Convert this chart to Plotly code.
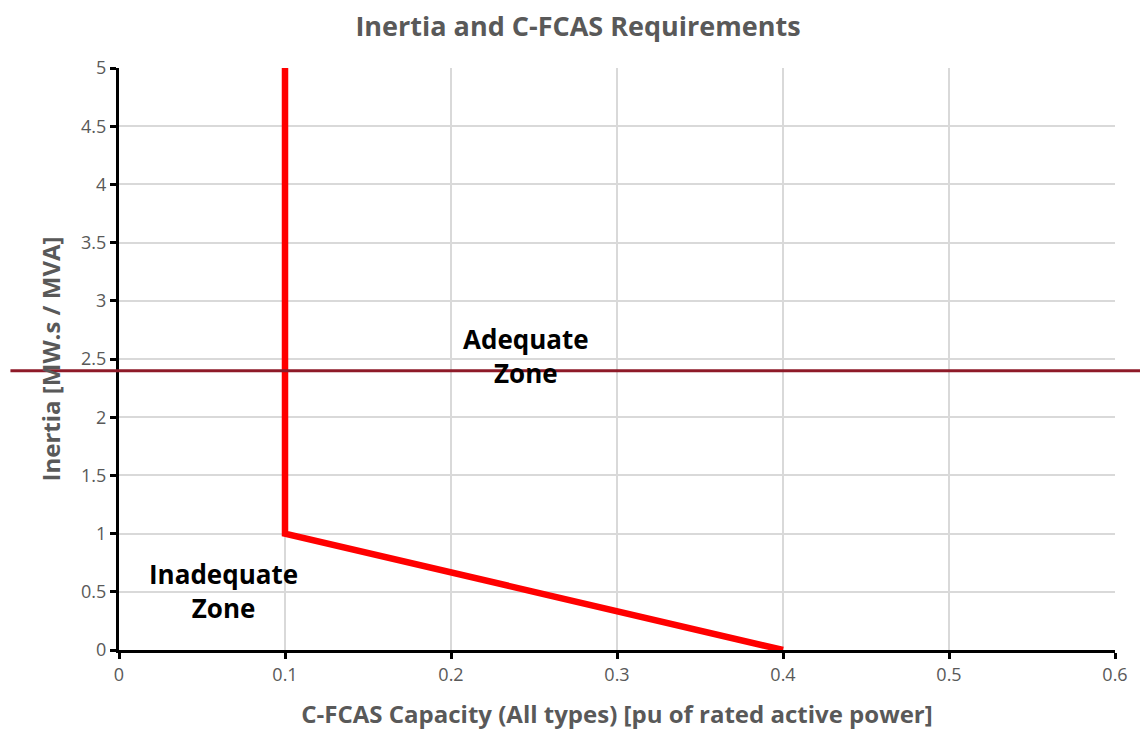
import plotly.graph_objects as go

capacity = [0.1, 0.1, 0.25, 0.4]
inertia = [5, 1, 0.5, 0]
threshold_inertia = 2.4
x_ticks = [0, 0.1, 0.2, 0.3, 0.4, 0.5, 0.6]
x_tick_labels = ["0", "0.1", "0.2", "0.3", "0.4", "0.5", "0.6"]
y_ticks = [0, 0.5, 1, 1.5, 2, 2.5, 3, 3.5, 4, 4.5, 5]
y_tick_labels = ["0", "0.5", "1", "1.5", "2", "2.5", "3", "3.5", "4", "4.5", "5"]

font_family = "Open Sans, Liberation Sans, sans-serif"
grey = "#595959"

fig = go.Figure()
fig.add_trace(go.Scatter(x=capacity, y=inertia, mode="lines",
                         line=dict(color="#FF0000", width=6.5),
                         showlegend=False, cliponaxis=False))

fig.add_shape(type="line", xref="paper", yref="y",
              x0=-0.109, x1=1.033, y0=threshold_inertia, y1=threshold_inertia,
              line=dict(color="#8E1A28", width=3), layer="above")

fig.add_annotation(x=0.245, y=2.53, xref="x", yref="y",
                   text="<b>Adequate</b><br><b>Zone</b>",
                   showarrow=False, font=dict(family=font_family, size=26, color="black"))
fig.add_annotation(x=0.0627, y=0.51, xref="x", yref="y",
                   text="<b>Inadequate</b><br><b>Zone</b>",
                   showarrow=False, font=dict(family=font_family, size=26, color="black"))

fig.update_layout(
    width=1140, height=743,
    margin=dict(l=111, r=33, t=60, b=101),
    plot_bgcolor="white", paper_bgcolor="white",
    title=dict(text="<b>Inertia and C-FCAS Requirements</b>", x=0.5, xanchor="center",
               y=0.975, yanchor="middle",
               font=dict(family=font_family, size=27, color=grey)),
    xaxis=dict(range=[0, 0.6], tickvals=x_ticks, ticktext=x_tick_labels,
               showgrid=True, gridcolor="#D9D9D9", gridwidth=1.5,
               showline=True, linecolor="black", linewidth=3,
               ticks="outside", tickcolor="black", tickwidth=3, ticklen=6,
               tickfont=dict(family=font_family, size=18, color=grey),
               zeroline=False,
               title=dict(text="<b>C-FCAS Capacity (All types) [pu of rated active power]</b>",
                          font=dict(family=font_family, size=24, color=grey), standoff=22)),
    yaxis=dict(range=[0, 5], tickvals=y_ticks, ticktext=y_tick_labels,
               showgrid=True, gridcolor="#D9D9D9", gridwidth=1.5,
               showline=True, linecolor="black", linewidth=3,
               ticks="outside", tickcolor="black", tickwidth=3, ticklen=6,
               tickfont=dict(family=font_family, size=18, color=grey),
               zeroline=False,
               title=dict(text="<b>Inertia [MW.s / MVA]</b>",
                          font=dict(family=font_family, size=24, color=grey), standoff=14)),
)
fig.write_html("out.html")
